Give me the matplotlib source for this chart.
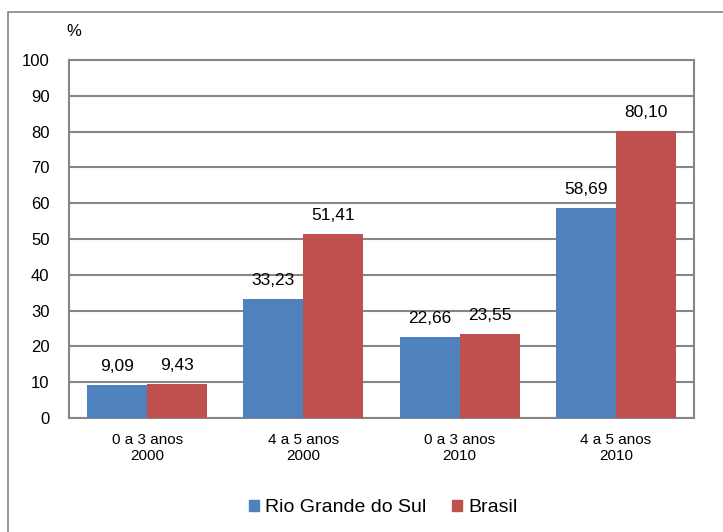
import matplotlib.pyplot as plt
import numpy as np
from matplotlib.patches import Rectangle, Patch

plt.rcParams['font.family'] = ['Liberation Sans', 'DejaVu Sans']

categorias = ['0 a 3 anos\n2000', '4 a 5 anos\n2000', '0 a 3 anos\n2010', '4 a 5 anos\n2010']
rio_grande = [9.09, 33.23, 22.66, 58.69]
brasil = [9.43, 51.41, 23.55, 80.10]

azul = '#4F81BD'
vermelho = '#C0504D'
cinza = '#868686'

fig = plt.figure(figsize=(7.23, 5.32), dpi=100)
ax = fig.add_axes([0.0954, 0.2143, 0.8645, 0.6729])

# moldura externa do gráfico
fig.patches.append(Rectangle((8 / 723, -0.1), 1.2, 1 - 12 / 532 + 0.1,
                             transform=fig.transFigure, fill=False,
                             edgecolor=cinza, linewidth=1.2))

x = np.arange(len(categorias))
w = 0.384
b1 = ax.bar(x - w / 2, rio_grande, w, color=azul, zorder=3)
b2 = ax.bar(x + w / 2, brasil, w, color=vermelho, zorder=3)

for barras in (b1, b2):
    for r in barras:
        v = r.get_height()
        ax.annotate(f'{v:.2f}'.replace('.', ','),
                    (r.get_x() + r.get_width() / 2, v),
                    xytext=(0, 8), textcoords='offset points',
                    ha='center', va='bottom', fontsize=12.5)

ax.set_xlim(-0.5, 3.5)
ax.set_ylim(0, 100)
ax.set_yticks(range(0, 101, 10))
ax.set_xticks(x)
ax.set_xticklabels(categorias, fontsize=11, linespacing=1.15)
ax.tick_params(axis='y', length=0, pad=14, labelsize=12)
ax.tick_params(axis='x', length=0, pad=11)
ax.yaxis.grid(True, color=cinza, linewidth=1.5, zorder=0)
for s in ax.spines.values():
    s.set_color(cinza)
    s.set_linewidth(1.5)

fig.text(66 / 723, 1 - 31 / 532, '%', fontsize=12, va='center', ha='left')

handles = [Patch(color=azul), Patch(color=vermelho)]
fig.legend(handles, ['Rio Grande do Sul', 'Brasil'], loc='center',
           bbox_to_anchor=(383 / 723, 1 - 508 / 532), ncol=2, frameon=False,
           fontsize=14, handlelength=0.55, handleheight=0.55, handletextpad=0.3,
           columnspacing=1.3)

fig.savefig('out.png', dpi=100)
